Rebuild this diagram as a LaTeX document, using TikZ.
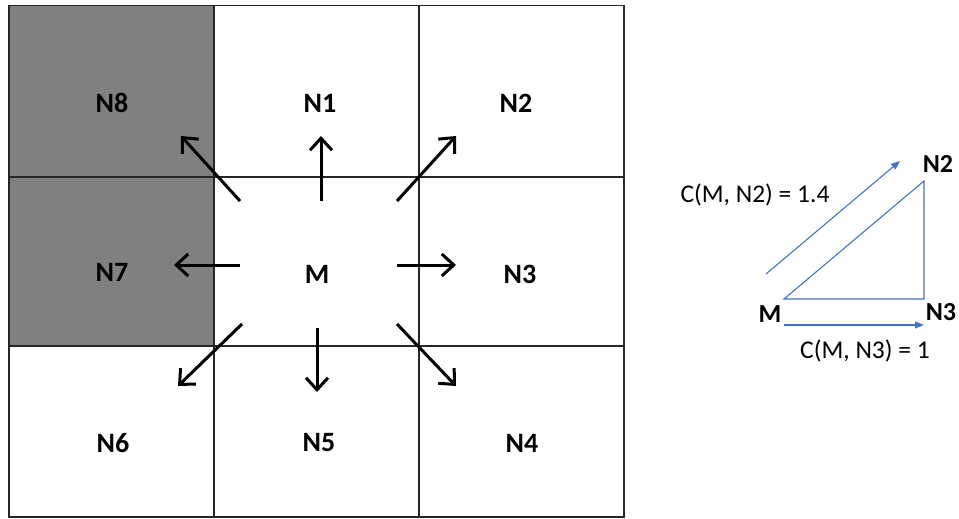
\documentclass[tikz,border=0pt]{standalone}
\usepackage{fontspec}
\setmainfont{Carlito}
\usetikzlibrary{arrows.meta}
\definecolor{cellgray}{HTML}{808080}
\definecolor{lineblue}{HTML}{4472C4}
\tikzset{
  gridline/.style={draw=black!85, line width=1.4pt},
  cell/.style={font=\fontsize{28}{32}\selectfont\bfseries, inner sep=0pt},
  movearrow/.style={line width=3pt, -{Straight Barb[length=12pt,width=22pt,line width=3pt]}},
  bluearrow/.style={draw=lineblue, line width=1.1pt, -{Triangle[length=9pt,width=7pt]}},
  blueline/.style={draw=lineblue, line width=1.1pt},
  lab/.style={font=\fontsize{25.5}{30}\selectfont, inner sep=0pt},
  blab/.style={font=\fontsize{26}{30}\selectfont\bfseries, inner sep=0pt}
}
\begin{document}
\begin{tikzpicture}[x=1pt,y=-1pt]
\useasboundingbox (0,0) rectangle (959,519);
% gray cells
\fill[cellgray] (9,5.5) rectangle (214,346);
% grid
\draw[gridline] (9,5.5) rectangle (624,517);
\draw[gridline] (214,5.5) -- (214,517);
\draw[gridline] (419,5.5) -- (419,517);
\draw[gridline] (9,177) -- (624,177);
\draw[gridline] (9,346) -- (624,346);
% labels
\node[cell] (N8) at (112,103) {N8};
\node[cell] (N1) at (320,103) {N1};
\node[cell] (N2) at (516,103) {N2};
\node[cell] (N7) at (112,272) {N7};
\node[cell] (M)  at (317,274) {M};
\node[cell] (N3) at (520,274) {N3};
\node[cell] (N6) at (113,443) {N6};
\node[cell] (N5) at (319,443) {N5};
\node[cell] (N4) at (522,443) {N4};
% arrow end points
\coordinate (s8) at (240,201); \coordinate (e8) at (181,136);
\coordinate (s1) at (321,201); \coordinate (e1) at (321,136);
\coordinate (s2) at (397,201); \coordinate (e2) at (456,136);
\coordinate (s7) at (240,265); \coordinate (e7) at (174,265);
\coordinate (s3) at (397,265); \coordinate (e3) at (456,265);
\coordinate (s6) at (242,324); \coordinate (e6) at (178,386);
\coordinate (s5) at (317,328); \coordinate (e5) at (317,392);
\coordinate (s4) at (397,324); \coordinate (e4) at (456,386);
\foreach \i in {1,...,8} \draw[movearrow] (s\i) -- (e\i);
% right triangle diagram
\coordinate (tM) at (784,299);
\coordinate (tN3) at (924,299);
\coordinate (tN2) at (924,181);
\draw[blueline] (tM) -- (tN3) -- (tN2) -- cycle;
\coordinate (a2s) at (766,274); \coordinate (a2e) at (900,161);
\draw[bluearrow] (a2s) -- (a2e);
\coordinate (a3s) at (784,325); \coordinate (a3e) at (924,325);
\draw[bluearrow] (a3s) -- (a3e);
\node[blab] (lN2) at (938,164) {N2};
\node[blab] (lM) at (770,314) {M};
\node[blab] (lN3) at (941,312) {N3};
\node[lab] (c2) at (755,195) {C(M, N2) = 1.4};
\node[lab] (c3) at (865,351) {C(M, N3) = 1};
\end{tikzpicture}
\end{document}
